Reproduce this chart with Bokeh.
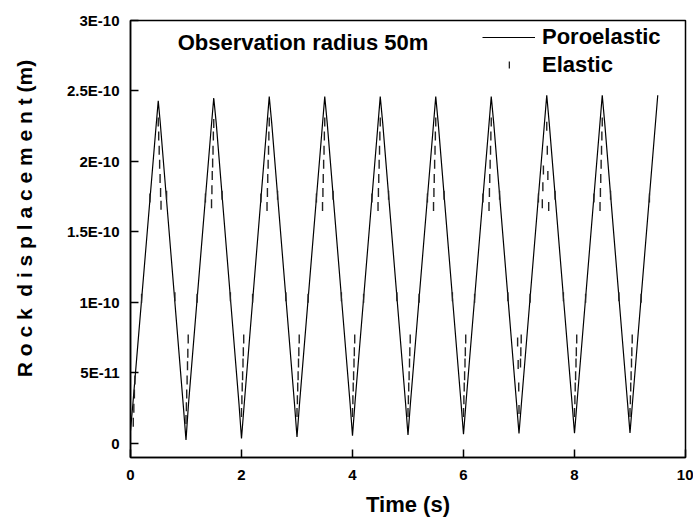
import numpy as np
from bokeh.plotting import figure
from bokeh.models import Range1d, FixedTicker, Legend, LegendItem, Label
from bokeh.embed import file_html
from bokeh.resources import INLINE

# ---- data ----
poro_t = [0.0, 0.045, 0.45, 0.5, 0.535, 0.955,
          1.0, 1.045, 1.45, 1.5, 1.545, 1.955,
          2.0, 2.045, 2.45, 2.5, 2.545, 2.955,
          3.0, 3.045, 3.45, 3.5, 3.545, 3.955,
          4.0, 4.045, 4.45, 4.5, 4.545, 4.955,
          5.0, 5.045, 5.45, 5.5, 5.545, 5.955,
          6.0, 6.045, 6.45, 6.5, 6.545, 6.955,
          7.0, 7.045, 7.45, 7.5, 7.545, 7.955,
          8.0, 8.045, 8.45, 8.5, 8.545, 8.955,
          9.0, 9.045, 9.5]
poro_u = [0.9e-11, 2.9e-11, 2.20e-10, 2.43e-10, 2.28e-10, 2.5e-11,
          0.25e-11, 2.8e-11, 2.22e-10, 2.45e-10, 2.27e-10, 2.8e-11,
          0.35e-11, 2.6e-11, 2.22e-10, 2.46e-10, 2.27e-10, 2.8e-11,
          0.45e-11, 2.8e-11, 2.22e-10, 2.46e-10, 2.27e-10, 2.9e-11,
          0.55e-11, 2.9e-11, 2.22e-10, 2.46e-10, 2.27e-10, 2.9e-11,
          0.6e-11, 2.9e-11, 2.22e-10, 2.46e-10, 2.27e-10, 2.9e-11,
          0.65e-11, 2.9e-11, 2.22e-10, 2.46e-10, 2.27e-10, 2.9e-11,
          0.7e-11, 2.9e-11, 2.23e-10, 2.47e-10, 2.27e-10, 2.9e-11,
          0.72e-11, 2.9e-11, 2.23e-10, 2.47e-10, 2.27e-10, 2.9e-11,
          0.75e-11, 2.9e-11, 2.47e-10]

# elastic: plotted as vertical-bar symbols (Origin style); on the ramps they sit on the
# poroelastic curve, near each trough / peak they form a visible stack inside the spike
elas_t = [0.05, 0.06, 0.07, 0.08, 0.2, 0.35,
          0.5, 0.508, 0.517, 0.525, 0.533, 0.542, 0.55, 0.65, 0.8,
          1.0, 1.007, 1.013, 1.02, 1.027, 1.033, 1.04, 1.2, 1.35,
          1.46, 1.467, 1.473, 1.48, 1.487, 1.493, 1.5, 1.65, 1.8,
          2.0, 2.007, 2.013, 2.02, 2.027, 2.033, 2.04, 2.2, 2.35,
          2.46, 2.467, 2.473, 2.48, 2.487, 2.493, 2.5, 2.65, 2.8,
          3.0, 3.007, 3.013, 3.02, 3.027, 3.033, 3.04, 3.2, 3.35,
          3.46, 3.467, 3.473, 3.48, 3.487, 3.493, 3.5, 3.65, 3.8,
          4.0, 4.007, 4.013, 4.02, 4.027, 4.033, 4.04, 4.2, 4.35,
          4.46, 4.467, 4.473, 4.48, 4.487, 4.493, 4.5, 4.65, 4.8,
          5.0, 5.007, 5.013, 5.02, 5.027, 5.033, 5.04, 5.2, 5.35,
          5.46, 5.467, 5.473, 5.48, 5.487, 5.493, 5.5, 5.65, 5.8,
          6.0, 6.007, 6.013, 6.02, 6.027, 6.033, 6.04, 6.2, 6.35,
          6.46, 6.467, 6.473, 6.48, 6.487, 6.493, 6.5, 6.65, 6.8,
          6.975, 6.985, 6.995, 7.0, 7.027, 7.033, 7.04, 7.2, 7.35,
          7.42, 7.43, 7.44, 7.5, 7.51, 7.52, 7.535, 7.65, 7.8,
          8.0, 8.007, 8.013, 8.02, 8.027, 8.033, 8.04, 8.2, 8.35,
          8.46, 8.467, 8.473, 8.48, 8.487, 8.493, 8.5, 8.65, 8.8,
          9.0, 9.007, 9.013, 9.02, 9.027, 9.033, 9.04, 9.2, 9.35]
elas_u = [1.5e-11, 2.5e-11, 3.5e-11, 4.5e-11, 1.03e-10, 1.74e-10,
          2.28e-10, 2.18e-10, 2.08e-10, 1.98e-10, 1.88e-10, 1.78e-10, 1.69e-10, 1.76e-10, 1.04e-10,
          1.7e-11, 2.6e-11, 3.5e-11, 4.5e-11, 5.5e-11, 6.4e-11, 7.4e-11, 1.03e-10, 1.74e-10,
          1.70e-10, 1.80e-10, 1.90e-10, 1.99e-10, 2.08e-10, 2.18e-10, 2.27e-10, 1.76e-10, 1.04e-10,
          2.2e-11, 3.1e-11, 4.0e-11, 4.8e-11, 5.7e-11, 6.5e-11, 7.4e-11, 1.03e-10, 1.74e-10,
          1.68e-10, 1.78e-10, 1.88e-10, 1.98e-10, 2.08e-10, 2.18e-10, 2.28e-10, 1.76e-10, 1.04e-10,
          2.2e-11, 3.1e-11, 4.0e-11, 4.8e-11, 5.7e-11, 6.5e-11, 7.4e-11, 1.03e-10, 1.74e-10,
          1.68e-10, 1.78e-10, 1.88e-10, 1.98e-10, 2.08e-10, 2.18e-10, 2.28e-10, 1.76e-10, 1.04e-10,
          2.2e-11, 3.1e-11, 4.0e-11, 4.8e-11, 5.7e-11, 6.5e-11, 7.4e-11, 1.03e-10, 1.74e-10,
          1.68e-10, 1.78e-10, 1.88e-10, 1.98e-10, 2.08e-10, 2.18e-10, 2.28e-10, 1.76e-10, 1.04e-10,
          2.2e-11, 3.1e-11, 4.0e-11, 4.8e-11, 5.7e-11, 6.5e-11, 7.4e-11, 1.03e-10, 1.74e-10,
          1.68e-10, 1.78e-10, 1.88e-10, 1.98e-10, 2.08e-10, 2.18e-10, 2.28e-10, 1.76e-10, 1.04e-10,
          2.2e-11, 3.1e-11, 4.0e-11, 4.8e-11, 5.7e-11, 6.5e-11, 7.4e-11, 1.03e-10, 1.74e-10,
          1.68e-10, 1.78e-10, 1.88e-10, 1.98e-10, 2.08e-10, 2.18e-10, 2.28e-10, 1.76e-10, 1.04e-10,
          7.2e-11, 5.6e-11, 4.0e-11, 2.4e-11, 5.7e-11, 6.5e-11, 7.4e-11, 1.03e-10, 1.74e-10,
          1.70e-10, 1.82e-10, 1.94e-10, 2.25e-10, 2.08e-10, 1.90e-10, 1.68e-10, 1.76e-10, 1.04e-10,
          2.2e-11, 3.1e-11, 4.0e-11, 4.8e-11, 5.7e-11, 6.5e-11, 7.4e-11, 1.03e-10, 1.74e-10,
          1.68e-10, 1.78e-10, 1.88e-10, 1.98e-10, 2.08e-10, 2.18e-10, 2.28e-10, 1.76e-10, 1.04e-10,
          2.2e-11, 3.1e-11, 4.0e-11, 4.8e-11, 5.7e-11, 6.5e-11, 7.4e-11, 1.03e-10, 1.74e-10]

x_ticks = [0, 2, 4, 6, 8, 10]
y_ticks = [0.0, 5e-11, 1e-10, 1.5e-10, 2e-10, 2.5e-10, 3e-10]
y_tick_labels = ["0", "5E-11", "1E-10", "1.5E-10", "2E-10", "2.5E-10", "3E-10"]

FONT = "Liberation Sans"
NB = "\u00a0"

p = figure(width=693, height=520, output_backend="svg", toolbar_location=None,
           x_range=Range1d(0, 10), y_range=Range1d(-1e-11, 3e-10),
           min_border_left=130, min_border_right=8, min_border_top=20, min_border_bottom=63)
p.background_fill_color = "white"
p.border_fill_color = "white"
p.outline_line_color = "black"
p.outline_line_width = 1.5
p.grid.visible = False

r_poro = p.line(poro_t, poro_u, line_color="black", line_width=1.2)
r_elas = p.scatter(elas_t, elas_u, marker="dash", angle=np.pi / 2, size=9,
                   line_color="#222222", line_width=1.4)
# legend helpers (hidden in the plot area)
r_leg_none = p.scatter(elas_t, elas_u, size=0, line_color=None, fill_color=None, visible=False)
r_leg_bar = p.vbar(x=elas_t, top=elas_u, width=0.01, fill_color="#222222",
                   line_color=None, visible=False)

for ax in (p.xaxis[0], p.yaxis[0]):
    ax.axis_line_width = 1.5
    ax.axis_line_color = "black"
    ax.major_tick_in = 8
    ax.major_tick_out = 0
    ax.major_tick_line_width = 1.5
    ax.minor_tick_line_color = None
    ax.major_label_text_font = FONT
    ax.major_label_text_font_style = "bold"
    ax.major_label_text_font_size = "15px"
    ax.major_label_text_color = "black"
    ax.axis_label_text_font = FONT
    ax.axis_label_text_font_style = "bold"
    ax.axis_label_text_color = "black"

p.xaxis.ticker = FixedTicker(ticks=x_ticks)
p.yaxis.ticker = FixedTicker(ticks=y_ticks)
p.yaxis.major_label_overrides = {v: s for v, s in zip(y_ticks, y_tick_labels)}
p.xaxis.major_label_standoff = 12
p.yaxis.major_label_standoff = 11

p.xaxis.axis_label = "Time (s)"
p.xaxis.axis_label_text_font_size = "22px"
p.xaxis.axis_label_standoff = 9

ylab = NB * 7 + "R o c k  d i s p l a c e m e n t (m)".replace(" ", NB)
p.yaxis.axis_label = ylab
p.yaxis.axis_label_text_font_size = "21px"
p.yaxis.axis_label_standoff = 28

title = Label(x=0.85, y=2.845e-10, text="Observation radius 50m",
              text_font=FONT, text_font_style="bold", text_font_size="22px",
              text_baseline="middle", text_align="left", text_color="black")
p.add_layout(title)

legend = Legend(items=[LegendItem(label="Poroelastic", renderers=[r_poro]),
                       LegendItem(label="Elastic", renderers=[r_leg_none])],
                location=(352, 379), padding=0, margin=0, spacing=2,
                glyph_width=53, glyph_height=26, label_height=26, label_standoff=7,
                label_text_font=FONT, label_text_font_style="bold",
                label_text_font_size="22px", label_text_color="black",
                border_line_color=None, background_fill_alpha=0,
                inactive_fill_alpha=0)
p.add_layout(legend)

# small vertical bar used as the "Elastic" legend symbol
legend2 = Legend(items=[LegendItem(label=NB, renderers=[r_leg_bar])],
                 location=(377.5, 388.5), padding=0, margin=0, spacing=0,
                 glyph_width=2, glyph_height=9, label_height=9, label_standoff=0,
                 label_text_font_size="1px", label_width=1,
                 border_line_color=None, background_fill_alpha=0,
                 inactive_fill_alpha=0)
p.add_layout(legend2)

open("out.html", "w").write(file_html(p, INLINE))
